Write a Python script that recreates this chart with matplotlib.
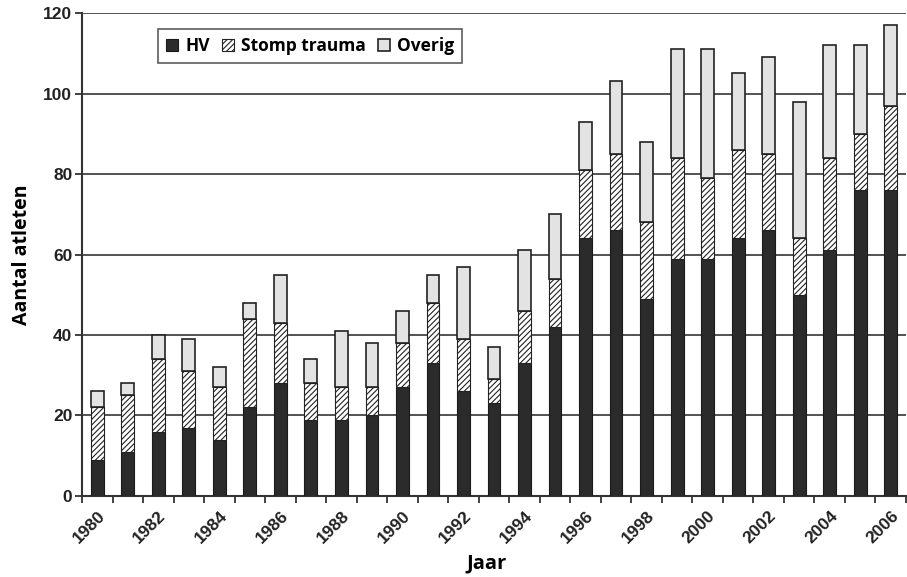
import matplotlib
matplotlib.use("Agg")
import matplotlib.pyplot as plt
import numpy as np
from matplotlib.transforms import ScaledTranslation

years = list(range(1980, 2007))
hv = [9, 11, 16, 17, 14, 22, 28, 19, 19, 20, 27, 33, 26, 23, 33, 42, 64, 66, 49, 59, 59, 64, 66, 50, 61, 76, 76]
stomp_top = [22, 25, 34, 31, 27, 44, 43, 28, 27, 27, 38, 48, 39, 29, 46, 54, 81, 85, 68, 84, 79, 86, 85, 64, 84, 90, 97]
total = [26, 28, 40, 39, 32, 48, 55, 34, 41, 38, 46, 55, 57, 37, 61, 70, 93, 103, 88, 111, 111, 105, 109, 98, 112, 112, 117]
stomp = [s - h for s, h in zip(stomp_top, hv)]
overig = [t - s for t, s in zip(total, stomp_top)]
labels = ["HV", "Stomp trauma", "Overig"]
yticks = [0, 20, 40, 60, 80, 100, 120]

plt.rcParams['hatch.color'] = '#555555'
plt.rcParams['hatch.linewidth'] = 0.8

fig = plt.figure(figsize=(9.07, 5.77), dpi=100)
ax = fig.add_axes([0.0904, 0.1404, 0.9085, 0.837])

x = np.arange(len(years))
w = 0.42
ax.bar(x, hv, w, color='#2b2b2b', edgecolor='#1a1a1a', linewidth=0.8, label=labels[0], zorder=3)
ax.bar(x, stomp, w, bottom=hv, color='white', edgecolor='#222222', hatch='//////', linewidth=0.8, label=labels[1], zorder=3)
ax.bar(x, overig, w, bottom=stomp_top, color='#e3e3e3', edgecolor='#222222', linewidth=1.2, label=labels[2], zorder=3)

ax.set_xlim(-0.5, len(years) - 0.5)
ax.set_ylim(0, 120)
ax.set_yticks(yticks)
ax.yaxis.grid(True, color='#444444', linewidth=1.3, zorder=0)
ax.set_axisbelow(True)
for s in ['top', 'right']:
    ax.spines[s].set_visible(False)
ax.spines['left'].set_linewidth(1.5)
ax.spines['bottom'].set_linewidth(1.5)
ax.spines['left'].set_color('#333333')
ax.spines['bottom'].set_color('#333333')

ax.set_xticks(x[::2])
ax.set_xticklabels([str(y) for y in years[::2]], rotation=45, ha='right', rotation_mode='anchor',
                   fontsize=12.5, fontweight='bold', family='Liberation Sans', color='#222222')
offset = ScaledTranslation(5 / 72, 0, fig.dpi_scale_trans)
for t in ax.get_xticklabels():
    t.set_transform(t.get_transform() + offset)
ax.set_xticks(np.arange(-0.5, len(years)), minor=True)
ax.tick_params(axis='x', which='major', length=0, pad=9)
ax.tick_params(axis='x', which='minor', length=5, width=1.3, color='#333333')
ax.tick_params(axis='y', length=5, width=1.3, color='#333333', pad=2)
for t in ax.get_yticklabels():
    t.set_fontsize(12.5)
    t.set_fontweight('bold')
    t.set_family('Liberation Sans')
    t.set_color('#222222')

ax.set_ylabel('Aantal atleten', fontsize=14, fontweight='bold', family='Open Sans', labelpad=8)
fig.text(487 / 907, 1 - 563 / 577, 'Jaar', fontsize=14.5, fontweight='bold', family='Open Sans',
         ha='center', va='center')

leg = ax.legend(loc='upper left', bbox_to_anchor=(0.082, 0.985), ncol=3, frameon=True, fancybox=False,
                edgecolor='#333333', handlelength=0.7, handleheight=0.7, handletextpad=0.4,
                columnspacing=0.7, borderpad=0.45,
                prop={'family': 'Open Sans', 'weight': 'bold', 'size': 12.5})
leg.get_frame().set_linewidth(1.2)
leg.set_zorder(5)

fig.savefig('out.png', dpi=100)
